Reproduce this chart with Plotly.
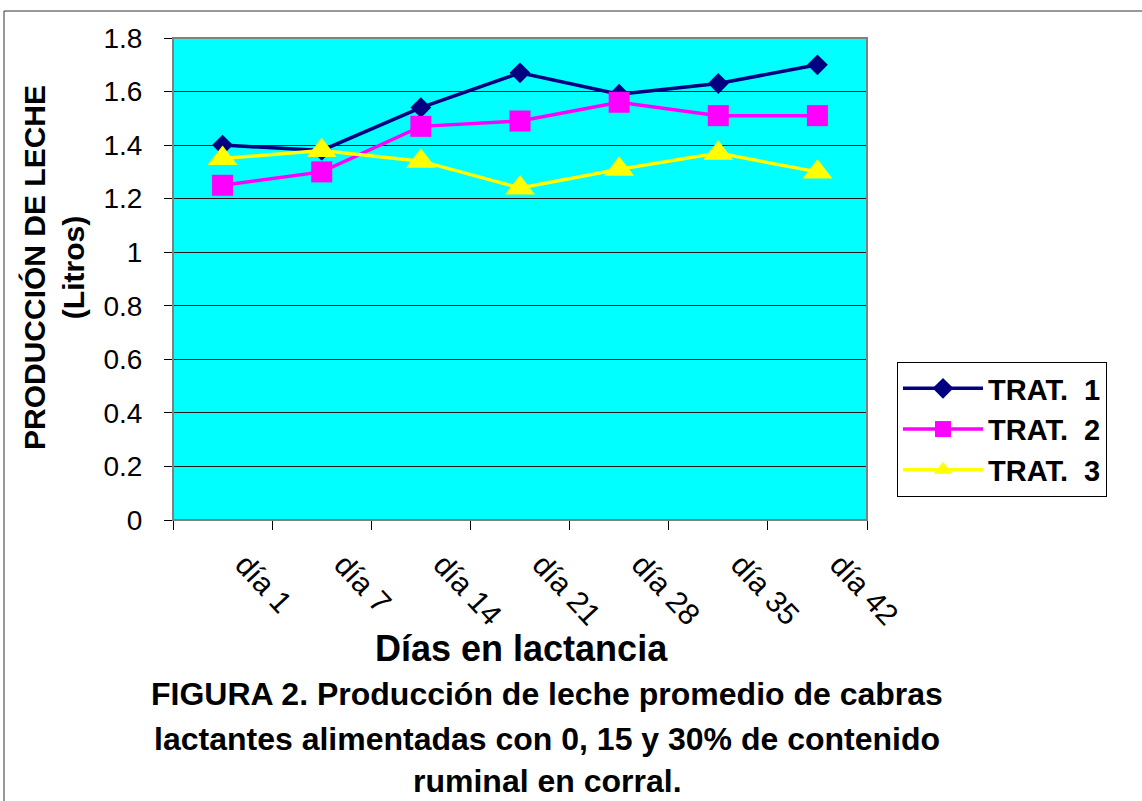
import plotly.graph_objects as go

# Lactation days (category axis)
dias = ["día 1", "día 7", "día 14", "día 21", "día 28", "día 35", "día 42"]

# Average milk production per treatment (litres)
trat1 = [1.40, 1.38, 1.54, 1.67, 1.59, 1.63, 1.70]
trat2 = [1.25, 1.30, 1.47, 1.49, 1.56, 1.51, 1.51]
trat3 = [1.35, 1.38, 1.34, 1.24, 1.31, 1.37, 1.30]

y_ticks = [0, 0.2, 0.4, 0.6, 0.8, 1, 1.2, 1.4, 1.6, 1.8]
y_tick_text = ["0", "0.2", "0.4", "0.6", "0.8", "1", "1.2", "1.4", "1.6", "1.8"]

FONT = "Liberation Sans, Arial, sans-serif"
W, H = 1142, 801
L, R, T, B = 173, 867, 38, 520  # plot area in pixels


def px_x(x):
    return (x - L) / (R - L)


def px_y(y):
    return (B - y) / (B - T)


fig = go.Figure()

series = [
    ("TRAT.\u00a0 1", trat1, "#000080", "diamond", 16),
    ("TRAT.\u00a0 2", trat2, "#FF00FF", "square", 21),
    ("TRAT.\u00a0 3", trat3, "#FFFF00", "triangle-up", 26),
]
for name, vals, color, sym, size in series:
    fig.add_trace(go.Scatter(
        x=dias, y=vals, name=name, mode="lines+markers",
        line=dict(color=color, width=3.5),
        marker=dict(symbol=sym, size=size, color=color, line=dict(width=0)),
    ))

# label positions: each day's label sits a little right of its category centre
label_pos = [i + 0.22 for i in range(len(dias))]

fig.update_layout(
    width=W, height=H,
    margin=dict(l=L, r=W - R, t=T, b=H - B, pad=0),
    paper_bgcolor="white",
    plot_bgcolor="#00FFFF",
    font=dict(family=FONT, color="black"),
    showlegend=True,
    legend=dict(
        x=px_x(897), y=px_y(362), xanchor="left", yanchor="top",
        bgcolor="white", bordercolor="black", borderwidth=1,
        font=dict(size=29, weight="bold", family=FONT),
        itemwidth=80, tracegroupgap=0,
    ),
    xaxis=dict(
        type="category", range=[-0.5, 6.5],
        showgrid=False, zeroline=False,
        ticks="outside", tickson="boundaries", ticklen=9, tickcolor="black",
        showticklabels=False,
        showline=True, linecolor="#808080", linewidth=1,
    ),
    xaxis2=dict(
        overlaying="x", anchor="y", side="bottom",
        range=[-0.5, 6.5], tickvals=label_pos, ticktext=dias,
        showgrid=False, zeroline=False, showline=False, ticks="",
        tickangle=47, tickfont=dict(size=30, family=FONT),
        ticklabelstandoff=20,
    ),
    yaxis=dict(
        range=[0, 1.8], tickvals=y_ticks, ticktext=y_tick_text,
        showgrid=True, gridcolor="#1a1a1a", gridwidth=1,
        zeroline=False,
        ticks="outside", ticklen=8, tickcolor="black",
        tickfont=dict(size=28, family=FONT),
        ticklabelstandoff=16,
        showline=True, linecolor="black", linewidth=1,
    ),
)

# invisible trace that activates the label axis
fig.add_trace(go.Scatter(x=[None], y=[None], xaxis="x2", yaxis="y",
                         showlegend=False, hoverinfo="skip"))

# grey frame of the plot area
fig.add_shape(type="rect", xref="paper", yref="paper", x0=0, x1=1, y0=0, y1=1,
              line=dict(color="#808080", width=2), layer="above")
# outer chart frame
fig.add_shape(type="rect", xref="paper", yref="paper",
              x0=px_x(4), x1=px_x(1160), y0=px_y(820), y1=px_y(11),
              line=dict(color="#333333", width=1), layer="above")

# y-axis title
fig.add_annotation(
    text="PRODUCCIÓN DE LECHE<br>(Litros)", textangle=-90,
    xref="paper", yref="paper", x=px_x(54), y=px_y(268),
    xanchor="center", yanchor="middle", showarrow=False,
    font=dict(size=30, weight="bold", family=FONT),
)
# x-axis title
fig.add_annotation(
    text="Días en lactancia", xref="paper", yref="paper",
    x=px_x(521), y=px_y(648), xanchor="center", yanchor="middle",
    showarrow=False, font=dict(size=36, weight="bold", family=FONT),
)
# figure caption
caption = [
    ("FIGURA 2. Producción de leche promedio de cabras", 694),
    ("lactantes alimentadas con 0, 15 y 30% de contenido", 739),
    ("ruminal en corral.", 781),
]
for text, yc in caption:
    fig.add_annotation(
        text=text, xref="paper", yref="paper", x=px_x(547), y=px_y(yc),
        xanchor="center", yanchor="middle", showarrow=False,
        font=dict(size=32, weight="bold", family=FONT),
    )

fig.write_html("out.html")
